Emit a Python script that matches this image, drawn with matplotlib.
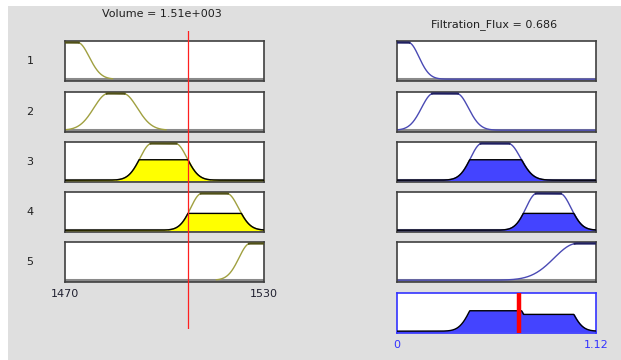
import numpy as np
import matplotlib
matplotlib.use("Agg")
import matplotlib.pyplot as plt
from matplotlib.patches import Rectangle

# Input variable: Volume, range and membership functions (gauss2mf: s1, c1, s2, c2)
vol_range = [1470, 1530]
vol_mfs = [
    [None, None, 3.5, 1473.8],
    [4.3, 1483.0, 4.3, 1487.5],
    [3.47, 1496.1, 3.47, 1503.3],
    [3.3, 1511.2, 3.5, 1518.8],
    [3.35, 1525.8, None, None],
]
vol_value = 1507.0

# Output variable: Filtration_Flux
flux_range = [0, 1.12]
flux_mfs = [
    [None, None, 0.0595, 0.064],
    [0.066, 0.204, 0.066, 0.336],
    [0.0626, 0.477, 0.069, 0.626],
    [0.060, 0.786, 0.0624, 0.917],
    [0.128, 1.013, None, None],
]
flux_value = 0.686

# rule firing strengths (read from the filled areas)
firing = [0.0, 0.0, 0.556, 0.457, 0.0]
rule_labels = ["1", "2", "3", "4", "5"]
vol_ticks = [1470, 1530]
flux_ticks = [0, 1.12]
flux_ticklabels = ["0", "1.12"]


def gauss2mf(x, p):
    s1, c1, s2, c2 = p
    y = np.ones_like(x)
    if c1 is not None:
        m = x < c1
        y[m] = np.exp(-(x[m] - c1) ** 2 / (2 * s1 ** 2))
    if c2 is not None:
        m = x > c2
        y[m] = np.exp(-(x[m] - c2) ** 2 / (2 * s2 ** 2))
    return y


W, H = 621, 360
fig = plt.figure(figsize=(W / 100, H / 100), dpi=100, facecolor="white")
fig.patches.append(Rectangle((8 / W, 0), 1, 1 - 6 / H, transform=fig.transFigure,
                             facecolor="#dfdfdf", edgecolor="none", zorder=-10))


def px_axes(x0, y0, x1, y1):
    return fig.add_axes([x0 / W, 1 - y1 / H, (x1 - x0) / W, (y1 - y0) / H])


def style_axes(ax, xr, frame="#404040", band=True):
    ax.set_xlim(xr)
    ax.set_ylim(-0.05, 1.04)
    ax.set_facecolor("white")
    ax.set_xticks([])
    ax.set_yticks([])
    for s in ax.spines.values():
        s.set_color(frame)
        s.set_linewidth(1.2)
    if band:
        ax.axhline(0, color="#8a8a8a", lw=2.2, zorder=1)


rows_y = [41, 92, 142, 192, 242]
lx0, lx1 = 65, 264
rx0, rx1 = 397, 596

xv = np.linspace(vol_range[0], vol_range[1], 600)
xf = np.linspace(flux_range[0], flux_range[1], 600)
agg = np.zeros_like(xf)

for i, y0 in enumerate(rows_y):
    # input column
    ax = px_axes(lx0, y0, lx1, y0 + 40)
    style_axes(ax, vol_range)
    mv = gauss2mf(xv, vol_mfs[i])
    if firing[i] > 0:
        cl = np.minimum(mv, firing[i])
        ax.fill_between(xv, 0, cl, color="#ffff00", zorder=2)
        ax.plot(xv, cl, color="black", lw=1.0, zorder=3)
    ax.plot(np.where(mv > 0.01, xv, np.nan), mv, color="#a0a040", lw=1.0, zorder=2)
    ax.plot(np.where(mv > 0.995, xv, np.nan), mv, color="#505018", lw=1.6, zorder=3)
    ax.text(-0.176, 0.5, rule_labels[i], transform=ax.transAxes, ha="center",
            va="center", fontsize=8, color="#202020")
    if i == 4:
        ax.set_xticks(vol_ticks)
        ax.set_xticklabels([str(t) for t in vol_ticks])
        ax.tick_params(axis="x", length=0, pad=5, labelsize=8, labelcolor="#202030")

    # output column
    ax = px_axes(rx0, y0, rx1, y0 + 40)
    style_axes(ax, flux_range)
    mf = gauss2mf(xf, flux_mfs[i])
    if firing[i] > 0:
        cl = np.minimum(mf, firing[i])
        agg = np.maximum(agg, cl)
        ax.fill_between(xf, 0, cl, color="#4444ff", zorder=2)
        ax.plot(xf, cl, color="black", lw=1.0, zorder=3)
    ax.plot(xf, mf, color="#4a4ab4", lw=1.0, zorder=2)
    ax.plot(np.where(mf > 0.995, xf, np.nan), mf, color="#202060", lw=1.6, zorder=3)

# aggregated output
ax = px_axes(rx0, 293, rx1, 333)
style_axes(ax, flux_range, frame="#3333ff", band=False)
ax.fill_between(xf, 0, agg, color="#4444ff", zorder=2)
ax.plot(xf, agg, color="black", lw=1.0, zorder=3)
ax.axvline(flux_value, color="#ff0000", lw=3.2, zorder=4)
ax.set_xticks(flux_ticks)
ax.set_xticklabels(flux_ticklabels)
ax.tick_params(axis="x", length=0, pad=5, labelsize=8, labelcolor="#3333ff")

# input value line across the input column
ov = px_axes(lx0, 31, lx1, 329)
ov.set_xlim(vol_range)
ov.axis("off")
ov.patch.set_alpha(0)
ov.axvline(vol_value, color="#ff2020", lw=0.9)

fig.text(162 / W, 1 - 14 / H, "Volume = 1.51e+003", ha="center", va="center",
         fontsize=8, color="#202020")
fig.text(494 / W, 1 - 25 / H, "Filtration_Flux = 0.686", ha="center", va="center",
         fontsize=8, color="#202020")

fig.savefig("out.png", dpi=100, facecolor=fig.get_facecolor())
